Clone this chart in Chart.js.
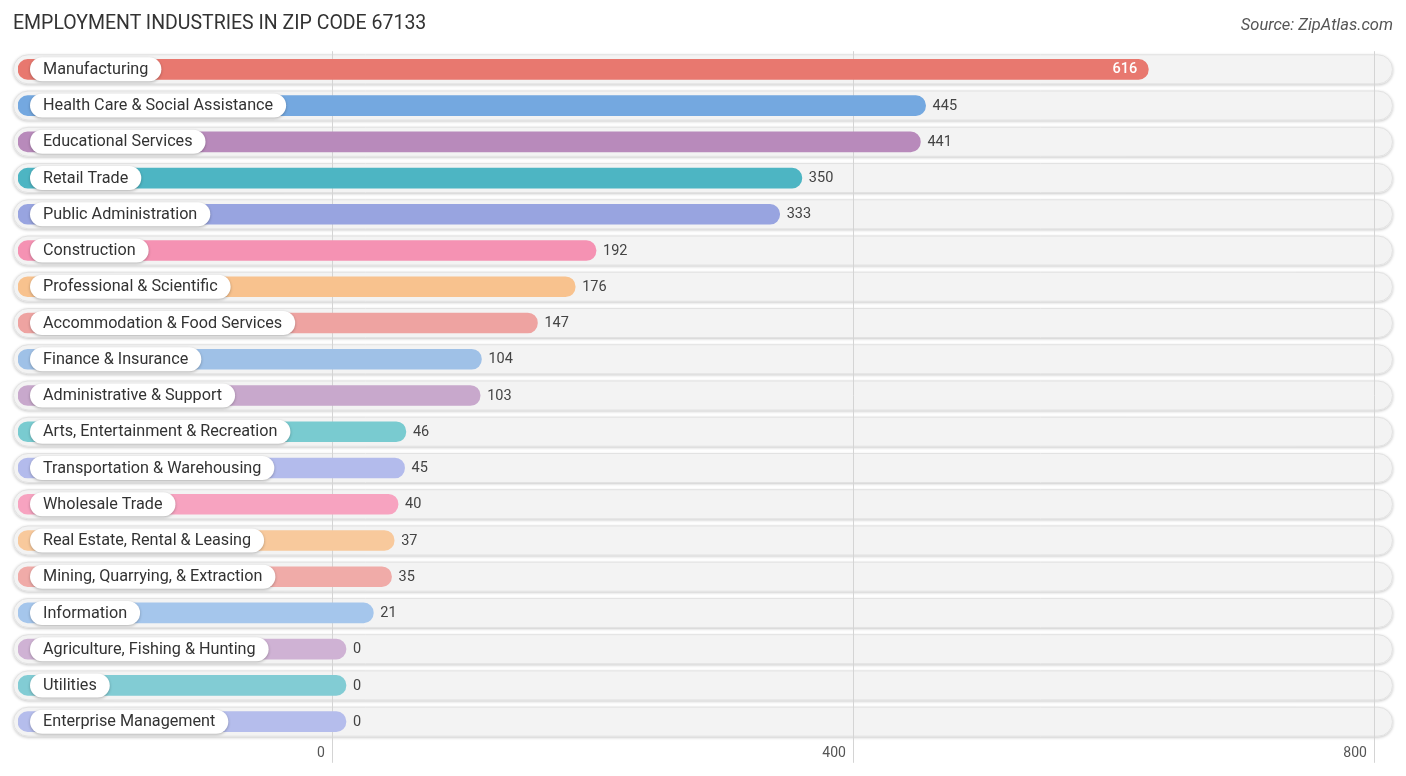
<!DOCTYPE html>
<html><head><meta charset="utf-8">
<script src="https://cdn.jsdelivr.net/npm/chart.js@4.4.0/dist/chart.umd.min.js"></script>
<style>
html,body{margin:0;padding:0;background:#fff;}
#wrap{position:relative;width:1406px;height:776px;overflow:hidden;}
#title{position:absolute;left:13px;top:11px;font:19.5px Roboto, sans-serif;color:#333;white-space:nowrap;}
#source{position:absolute;right:13px;top:15px;font:italic 16.5px Roboto, sans-serif;color:#555;white-space:nowrap;}
canvas{position:absolute;left:0;top:0;}
</style></head>
<body>
<div id="wrap">
<canvas id="c" width="1406" height="776"></canvas>
<div id="title">EMPLOYMENT INDUSTRIES IN ZIP CODE 67133</div>
<div id="source">Source: ZipAtlas.com</div>
</div>
<script>
const categories = [
  "Manufacturing","Health Care & Social Assistance","Educational Services","Retail Trade",
  "Public Administration","Construction","Professional & Scientific","Accommodation & Food Services",
  "Finance & Insurance","Administrative & Support","Arts, Entertainment & Recreation",
  "Transportation & Warehousing","Wholesale Trade","Real Estate, Rental & Leasing",
  "Mining, Quarrying, & Extraction","Information","Agriculture, Fishing & Hunting",
  "Utilities","Enterprise Management"
];
const values = [616,445,441,350,333,192,176,147,104,103,46,45,40,37,35,21,0,0,0];
const barColors = [
  "#e8786f","#74a8e0","#b88abb","#4db5c3","#98a4e0","#f592b3","#f8c28e","#eea3a1",
  "#9fc1e7","#c8a8cc","#79cbd0","#b3bbec","#f7a3c0","#f8c99c","#f0aba8","#a5c6ec",
  "#cfb2d4","#82ccd4","#b5bdec"
];
const tickValues = [0,400,800];

function rr(ctx,x,y,w,h,r){
  ctx.beginPath();
  ctx.moveTo(x+r,y);
  ctx.lineTo(x+w-r,y);
  ctx.arc(x+w-r,y+r,r,-Math.PI/2,Math.PI/2);
  ctx.lineTo(x+r,y+h);
  ctx.arc(x+r,y+r,r,Math.PI/2,Math.PI*1.5);
  ctx.closePath();
}

const rowsPlugin = {
  id:'rows',
  beforeDraw(chart){
    const {ctx, chartArea, scales} = chart;
    ctx.save();
    categories.forEach((c,i)=>{
      const y = scales.y.getPixelForValue(i);
      const x0 = chartArea.left-5, x1 = chartArea.right+5, h=30;
      ctx.save();
      ctx.shadowColor='rgba(0,0,0,0.22)';
      ctx.shadowBlur=3;
      ctx.shadowOffsetY=1;
      rr(ctx,x0,y-h/2,x1-x0,h,h/2);
      ctx.fillStyle='#f3f3f3';
      ctx.fill();
      ctx.restore();
      rr(ctx,x0+0.5,y-h/2+0.5,x1-x0-1,h-1,h/2-0.5);
      ctx.strokeStyle='#e2e2e2';
      ctx.lineWidth=1;
      ctx.stroke();
    });
    ctx.restore();
  }
};

const labelsPlugin = {
  id:'labels',
  afterDatasetsDraw(chart){
    const {ctx, chartArea, scales} = chart;
    const meta = chart.getDatasetMeta(0);
    const maxV = Math.max(...values);
    ctx.save();
    categories.forEach((c,i)=>{
      const y = scales.y.getPixelForValue(i);
      ctx.font='16.2px Roboto, sans-serif';
      const tw = ctx.measureText(c).width;
      const px = chartArea.left+12, ph=24, pw=tw+26;
      ctx.save();
      ctx.shadowColor='rgba(0,0,0,0.28)';
      ctx.shadowBlur=3;
      ctx.shadowOffsetY=1;
      rr(ctx,px,y-ph/2,pw,ph,ph/2);
      ctx.fillStyle='#ffffff';
      ctx.fill();
      ctx.restore();
      ctx.fillStyle='#333';
      ctx.textBaseline='middle';
      ctx.textAlign='left';
      ctx.fillText(c,px+13,y+0.5);

      const bar = meta.data[i];
      const v = values[i];
      ctx.font='14.5px Roboto, sans-serif';
      if (v === maxV) {
        ctx.fillStyle='#ffffff';
        ctx.textAlign='right';
        ctx.font='500 14.5px Roboto, sans-serif';
        ctx.fillText(String(v), bar.x-11, y+0.5);
      } else {
        ctx.fillStyle='#444';
        ctx.textAlign='left';
        ctx.fillText(String(v), bar.x+7, y+0.5);
      }
    });
    ctx.restore();
  }
};

new Chart(document.getElementById('c'),{
  type:'bar',
  data:{
    labels:categories,
    datasets:[{
      data:values,
      xAxisID:'xb',
      base:-251.8,
      backgroundColor:barColors,
      barThickness:20,
      borderRadius:10,
      borderSkipped:false
    }]
  },
  options:{
    indexAxis:'y',
    responsive:false,
    animation:false,
    devicePixelRatio:1,
    layout:{padding:{left:18,right:18,top:51.2,bottom:0}},
    plugins:{legend:{display:false},tooltip:{enabled:false},title:{display:false}},
    scales:{
      y:{type:'category',display:false,grid:{display:false}},
      xb:{type:'linear',display:false,min:-251.8,max:800},
      x:{
        type:'linear',position:'bottom',min:-241.8,max:810,
        afterBuildTicks:(s)=>{ s.ticks = tickValues.map(v=>({value:v})); },
        afterFit:(s)=>{ s.height = 36.2; },
        border:{display:false},
        grid:{color:'#d4d4d4',lineWidth:1,tickLength:23,drawTicks:true},
        ticks:{align:'end',labelOffset:-8,padding:-18,color:'#555',font:{family:'Roboto',size:14}}
      }
    }
  },
  plugins:[rowsPlugin,labelsPlugin]
});
</script>
</body></html>
